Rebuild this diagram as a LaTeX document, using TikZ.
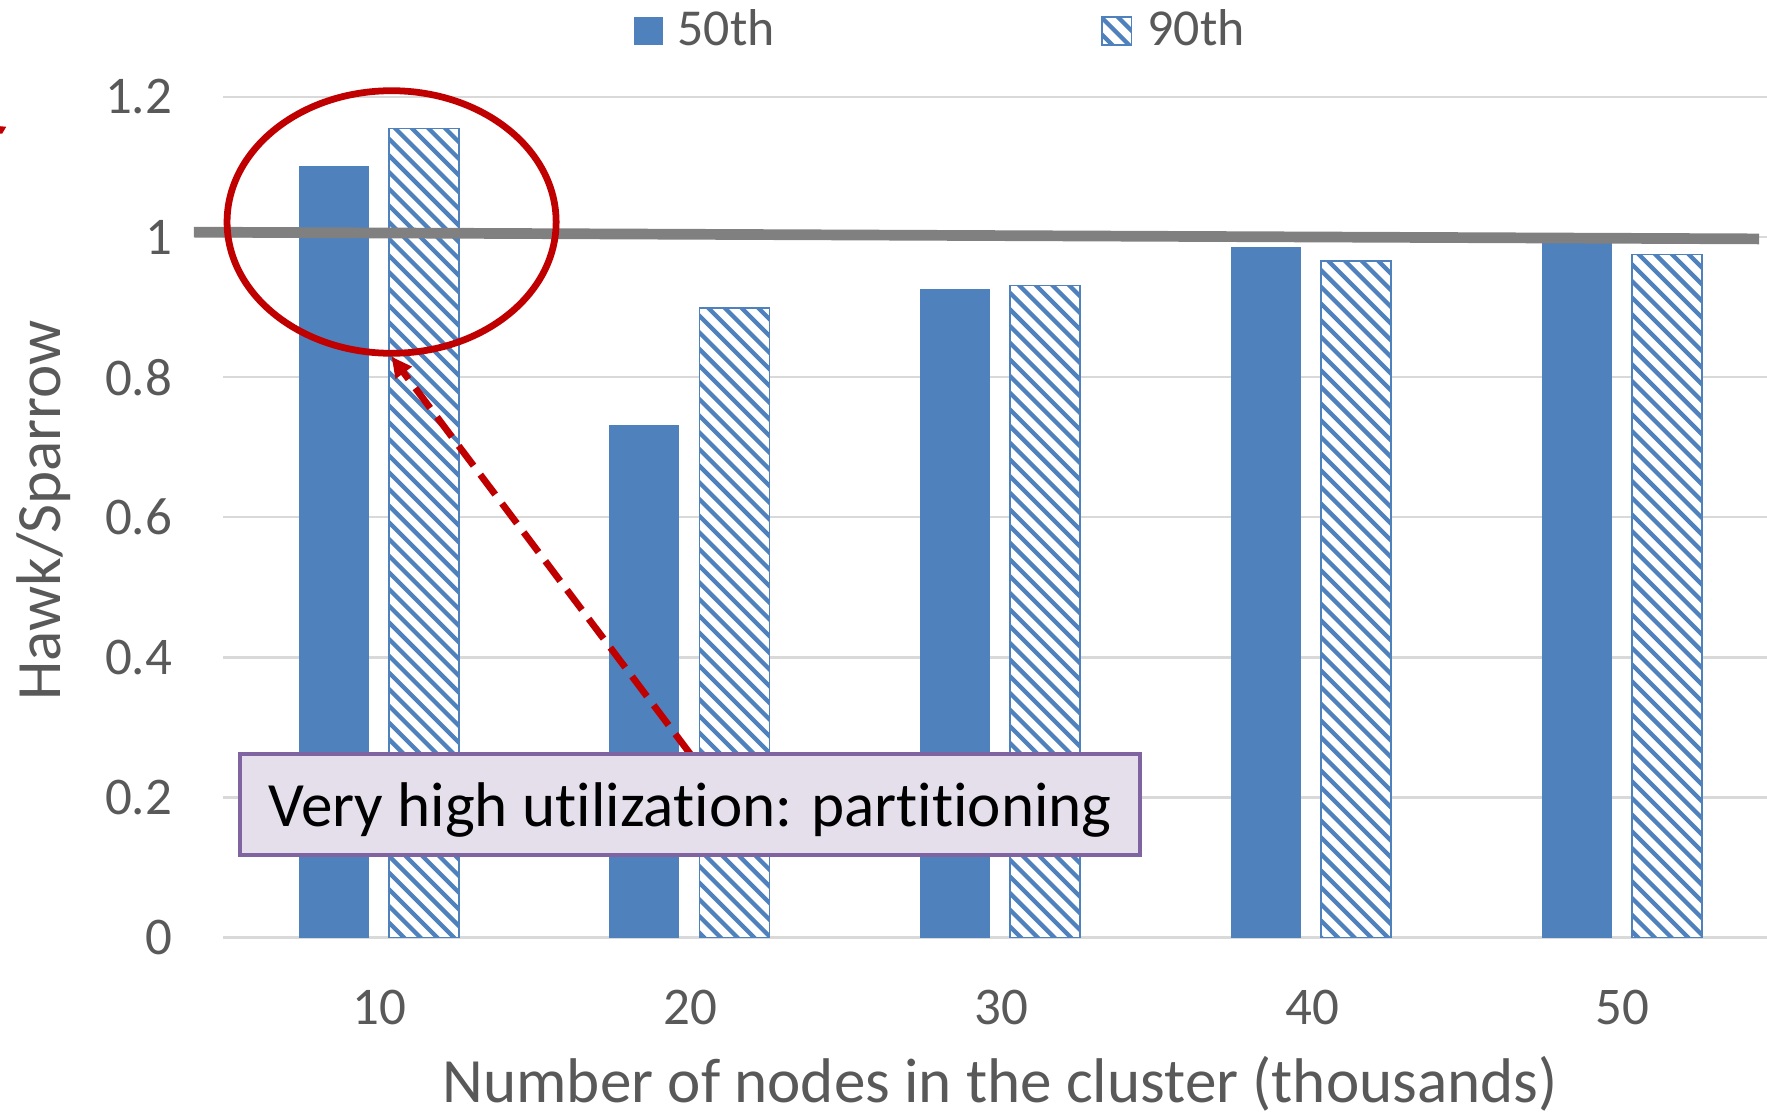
\documentclass[tikz,border=0pt]{standalone}
\usepackage{fontspec}
\setmainfont[Ligatures={NoCommon,NoRare}]{Carlito}
\usetikzlibrary{arrows.meta,shapes.geometric}

\definecolor{barblue}{HTML}{4F81BD}
\definecolor{gridgray}{HTML}{D9D9D9}
\definecolor{axtext}{HTML}{595959}
\definecolor{refgray}{HTML}{808080}
\definecolor{hlred}{HTML}{C00000}
\definecolor{notefill}{HTML}{E5DFEC}
\definecolor{noteedge}{HTML}{8064A2}

% "t" and "i" kept as separate glyphs
\newcommand{\tI}{t\kern0pt i}

% hatched (diagonal-stripe) rectangle: x1, x2, y-top, y-bottom (y measured downwards)
\newcommand{\hatchbar}[4]{%
  \begin{scope}
    \clip (#1,-#3) rectangle (#2,-#4);
    \fill[white] (#1,-#3) rectangle (#2,-#4);
    \pgfmathtruncatemacro\hks{floor(((#1)-(#4))/14.8)-1}
    \pgfmathtruncatemacro\hke{ceil(((#2)-(#3))/14.8)+1}
    \foreach \k in {\hks,...,\hke}{
      \pgfmathsetmacro\hc{\k*14.8}
      \draw[hatchline] (\hc+#3-10,-#3+10) -- (\hc+#4+10,-#4-10);
    }
  \end{scope}
  \draw[hatchedge] (#1,-#3) rectangle (#2,-#4);
}

\begin{document}
\begin{tikzpicture}[x=1pt,y=1pt,
  gridline/.style={draw=gridgray, line width=2pt},
  hatchline/.style={draw=barblue, line width=3.8pt},
  hatchedge/.style={draw=barblue, line width=1.5pt},
  ytick/.style={anchor=east, inner sep=0pt, text=axtext, font=\fontsize{47}{50}\selectfont},
  xtick/.style={anchor=center, inner sep=0pt, text=axtext, font=\fontsize{47}{50}\selectfont},
  legtext/.style={anchor=base west, inner sep=0pt, text=axtext, font=\fontsize{46}{50}\selectfont},
  axtitle/.style={inner sep=0pt, text=axtext, font=\fontsize{56}{60}\selectfont},
  refline/.style={draw=refgray, line width=9.5pt},
  hlring/.style={ellipse, draw=hlred, line width=6pt, minimum width=292pt, minimum height=233pt, inner sep=0pt},
  redarrow/.style={draw=hlred, line width=6pt, dash pattern=on 22pt off 10pt, -{Triangle[length=18pt,width=17pt]}},
  notebox/.style={draw=noteedge, fill=notefill, line width=3.5pt, minimum width=799pt, minimum height=89.5pt,
    inner sep=0pt, text height=44pt, text depth=5.5pt, font=\fontsize{56}{60}\selectfont, text=black}
]
\useasboundingbox (0,0) rectangle (1568,-992);
\fill[white] (0,0) rectangle (1568,-992);

% horizontal gridlines and value labels
\foreach \v/\lab [count=\i] in {0/0, 0.2/0.2, 0.4/0.4, 0.6/0.6, 0.8/0.8, 1/1, 1.2/1.2}{
  \pgfmathsetmacro\gy{832-\v*621.65}
  \draw[gridline] (198,-\gy) -- (1568,-\gy);
  \node[ytick] (yt\i) at (153,-\gy) {\lab};
}

% bars: solid = 50th, hatched = 90th
\foreach \c/\a/\b [count=\i] in {337/1.102/1.155, 612.75/0.732/0.899, 888.5/0.926/0.931, 1164.25/0.986/0.966, 1440/0.995/0.975}{
  \pgfmathsetmacro\ya{832-\a*621.65}
  \pgfmathsetmacro\yb{832-\b*621.65}
  \fill[barblue] (\c-72,-\ya) rectangle (\c-10,-832);
  \hatchbar{\c+8}{\c+70}{\yb}{832}
  \node[xtick] (xt\i) at (\c,-894) {\the\numexpr10*\i\relax};
}

% legend
\fill[barblue] (563,-15) rectangle (588,-40);
\node[legtext] (leg50) at (601,-40.5) {50th};
\hatchbar{978}{1004}{15}{40}
\node[legtext] (leg90) at (1018,-40.5) {90th};

% axis titles
\node[axtitle, rotate=90, anchor=base] (ytitle) at (54,-453) {Hawk/Sparrow};
\node[axtitle, anchor=base] (xtitle) at (887.5,-978) {Number of nodes in the cluster (thousands)};

% reference line at ratio 1
\coordinate (refL) at (172,-206);
\coordinate (refR) at (1561,-212);
\draw[refline] (refL) -- (refR);

% highlight ring, callout and its pointer
\node[hlring] (hl) at (347.5,-197) {};
\draw[redarrow] (612.5,-669) coordinate (tail) -- (hl.south);
\node[notebox] (note) at (612.5,-713.75) {Very high utiliza\tI on: par\tI\tI oning};

% small red mark at the left edge
\fill[hlred] (0,-112) -- (5.5,-112.5) -- (2,-118.5) -- (0,-118.5) -- cycle;
\end{tikzpicture}
\end{document}
